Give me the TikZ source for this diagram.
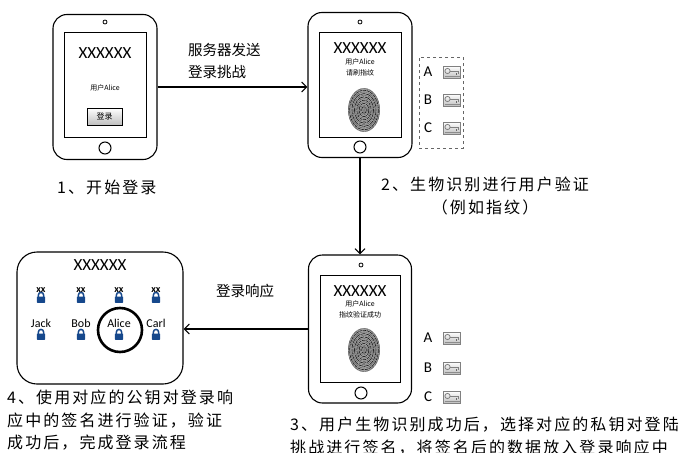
\documentclass[tikz,border=0pt]{standalone}
\usepackage{fontspec}
\setmainfont{Carlito}
\newfontfamily\cjk{Noto Sans CJK SC}
\newfontfamily\cjkwide{Noto Sans CJK SC}[LetterSpace=13]
\usepackage{xcolor}
\usetikzlibrary{arrows.meta,positioning}

\definecolor{lockblue}{RGB}{22,72,140}

\begin{document}
\begin{tikzpicture}[x=1pt, y=-1pt,
    phone/.style={draw, rounded corners=14pt, line width=1.1pt, minimum width=104pt, minimum height=145pt},
    screen/.style={draw, line width=1pt, minimum width=82pt, minimum height=105pt},
    big/.style={font=\fontsize{17}{17}\selectfont},
    tiny/.style={font=\cjk\fontsize{7}{8}\selectfont, inner sep=0pt},
    caption/.style={font=\cjkwide\fontsize{16}{22.5}\selectfont, align=left, anchor=west, inner sep=0pt},
    lbl/.style={font=\cjk\fontsize{14.5}{22}\selectfont, align=left, anchor=west, inner sep=0pt},
    letter/.style={font=\fontsize{15}{15}\selectfont, inner sep=0pt},
    arrow/.style={-{Straight Barb[length=5pt,width=10pt]}, line width=1.1pt},
    fingerprint/.pic={
        \fill[black!35] (0,0) ellipse [x radius=16, y radius=22];
        \foreach \r [count=\i] in {1.2,2.4,...,15.6} {
            \pgfmathsetmacro\shade{mod(\i,2)==0 ? 90 : 60}
            \draw[black!\shade, line width=0.6pt, dash pattern=on {3+mod(\i,3)*2}pt off 0.8pt]
                (0,0) ellipse [x radius=\r, y radius=\r*1.37];
        }
    },
    key/.pic={
        \draw[black!50, line width=0.6pt, top color=white, bottom color=black!25] (-8.5,-6) rectangle (8.5,6);
        \draw[black!50, line width=0.8pt] (-4.5,-1) circle (2.6);
        \draw[black!50, line width=0.8pt] (-1.9,-1) -- (6,-1) -- (6,1.5);
        \fill[black!60] (3.5,1) rectangle (5,2.5);
        \draw[black!45, line width=0.8pt] (-7.5,4.5) -- (7.5,4.5);
    },
    lock/.pic={
        \draw[lockblue, line width=1.5pt] (-2.6,0) -- (-2.6,-2) arc (180:360:2.6) -- (2.6,0);
        \fill[lockblue, rounded corners=0.6pt] (-4.2,-0.5) rectangle (4.2,5.8);
    }]

    \useasboundingbox (0,0) rectangle (681,453);

    % phone 1: login page
    \node[phone] (P1) at (105,87) {};
    \node[screen] (S1) at (105,84.5) {};
    \node[circle, draw, line width=0.8pt, minimum size=4pt, inner sep=0pt] (cam1) at (105,22) {};
    \node[circle, draw, line width=1pt, minimum size=12pt, inner sep=0pt] (home1) at (105,148) {};
    \node[big] (x1) at (105,53) {XXXXXX};
    \node[tiny] (u1) at (105,88) {用户Alice};
    \node[draw, line width=1pt, minimum width=35pt, minimum height=17pt, inner sep=0pt,
          top color=white, bottom color=black!25, font=\cjk\fontsize{8}{8}\selectfont] (btn) at (104.5,116.5) {登录};

    % phone 2: fingerprint prompt
    \node[phone] (P2) at (360,85) {};
    \node[screen] (S2) at (360.5,84.5) {};
    \node[circle, draw, line width=0.8pt, minimum size=4pt, inner sep=0pt] (cam2) at (360,22) {};
    \node[circle, draw, line width=1pt, minimum size=12pt, inner sep=0pt] (home2) at (360,147) {};
    \node[big] (x2) at (360,48) {XXXXXX};
    \node[tiny] (u2) at (360,62) {用户Alice};
    \node[tiny] (h2) at (360,73) {请刷指纹};
    \pic at (364,110) {fingerprint};

    % private keys
    \node[draw, black!60, dashed, line width=0.7pt, minimum width=44pt, minimum height=91pt] (KB) at (441,102.5) {};
    \foreach \k/\ky in {A/72, B/100, C/128} {
        \node[letter] (k2\k) at (428,\ky) {\k};
        \pic at (452,\ky) {key};
    }

    % phone 3: fingerprint accepted
    \node[phone, minimum width=103pt, minimum height=148pt] (P3) at (360,329) {};
    \node[screen, minimum width=80pt, minimum height=107pt] (S3) at (360,328.5) {};
    \node[circle, draw, line width=0.8pt, minimum size=4pt, inner sep=0pt] (cam3) at (361,265) {};
    \node[circle, draw, line width=1pt, minimum size=12pt, inner sep=0pt] (home3) at (361,393) {};
    \node[big] (x3) at (360,291) {XXXXXX};
    \node[tiny] (u3) at (360,304) {用户Alice};
    \node[tiny] (h3) at (360,315) {指纹验证成功};
    \pic at (364,350) {fingerprint};
    \foreach \k/\ky in {A/338, B/368, C/397} {
        \node[letter] (k3\k) at (428,\ky) {\k};
        \pic at (452,\ky) {key};
    }

    % server side with public keys
    \node[draw, rounded corners=20pt, line width=1.1pt, minimum width=166pt, minimum height=132pt] (Srv) at (100,318) {};
    \node[big] (x4) at (100,265) {XXXXXX};
    \foreach \px in {41,81,119,156} {
        \pic at (\px,297) {lock};
        \node[font=\bfseries\fontsize{10}{10}\selectfont, inner sep=0pt] (xx\px) at (\px,290) {xx};
    }
    \foreach \nm/\px in {Jack/41, Bob/81, Alice/119, Carl/156} {
        \node[font=\fontsize{12}{12}\selectfont, inner sep=0pt] (n\nm) at (\px,323) {\nm};
        \pic at (\px,334) {lock};
    }
    \node[circle, draw, line width=2.6pt, minimum size=44pt] (mark) at (120,330) {};

    % flow
    \draw[arrow] (P1.east) -- (P1.east -| P2.west);
    \draw[arrow] (P2.south) -- (P3.north);
    \draw[arrow] (P3.west) -- (P3.west -| Srv.east);

    \node[lbl] (m1) at (188,61) {服务器发送\\登录挑战};
    \node[lbl] (m3) at (216,291) {登录响应};

    \node[caption] (c1) at (57,187) {1、开始登录};
    \node[caption, align=center, anchor=north west] (c2) at (381,177) {2、生物识别进行用户验证\\（例如指纹）};
    \node[caption] (c3) at (290,436) {3、用户生物识别成功后，选择对应的私钥对登陆\\挑战进行签名，将签名后的数据放入登录响应中};
    \node[caption] (c4) at (7,420.5) {4、使用对应的公钥对登录响\\应中的签名进行验证，验证\\成功后，完成登录流程};
\end{tikzpicture}
\end{document}
